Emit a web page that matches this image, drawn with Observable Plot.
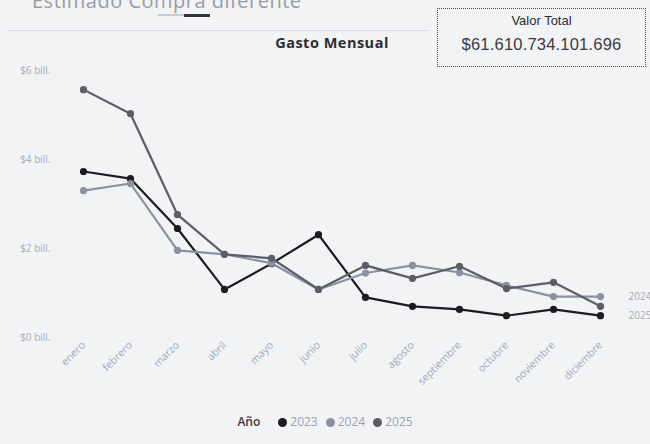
<!DOCTYPE html>
<html>
<head>
<meta charset="utf-8">
<script src="https://cdn.jsdelivr.net/npm/d3@7"></script>
<script src="https://cdn.jsdelivr.net/npm/@observablehq/plot@0.6"></script>
<style>
  html, body { margin: 0; padding: 0; }
  body { width: 650px; height: 444px; overflow: hidden; background: #f1f3f5; font-family: "Open Sans", "Noto Sans", sans-serif; }
  #wrap { position: relative; width: 650px; height: 444px; }
  #top { position: absolute; left: 32px; top: -13px; font-size: 20px; color: #9a9ca4; letter-spacing: 0.5px; white-space: nowrap; }
  #tab1 { position: absolute; left: 158px; top: 14px; width: 26px; height: 2px; background: #c9ccd6; }
  #tab2 { position: absolute; left: 184px; top: 14px; width: 26px; height: 3px; background: #33353d; }
  #rule { position: absolute; left: 8px; top: 30px; width: 422px; height: 1px; background: #d9dce2; }
  #ctitle { position: absolute; left: 232px; width: 200px; top: 33px; text-align: center; font-size: 14.5px; font-weight: 700; color: #2c2d33; letter-spacing: 0.5px; }
  #card { position: absolute; left: 437px; top: 8px; width: 209px; height: 59px; border: 1px dotted #4a4b52; box-sizing: border-box; text-align: center; font-family: "Liberation Sans", Arial, sans-serif; }
  #card .t { font-size: 13px; color: #2c2d33; margin-top: 4px; }
  #card .v { font-size: 16.5px; color: #3a3b42; margin-top: 7px; letter-spacing: 0.2px; }
  #plot { position: absolute; left: 0; top: 0; }
  #legend { position: absolute; left: 0; width: 650px; top: 413px; text-align: center; font-size: 12px; color: #9aa0b8; padding-left: 4px; }
  #legend b { color: #3a3b42; font-weight: 600; margin-right: 18px; }
  #legend .sw { display: inline-block; width: 9px; height: 9px; border-radius: 50%; margin-right: 3px; vertical-align: -1px; }
  #legend .it { margin-right: 8px; }
</style>
</head>
<body>
<div id="wrap">
  <div id="top">Estimado Compra diferente</div>
  <div id="tab1"></div><div id="tab2"></div>
  <div id="rule"></div>
  <div id="ctitle">Gasto Mensual</div>
  <div id="card"><div class="t">Valor Total</div><div class="v">$61.610.734.101.696</div></div>
  <div id="plot"></div>
  <div id="legend"></div>
</div>
<script>
const months = ["enero","febrero","marzo","abril","mayo","junio","julio","agosto","septiembre","octubre","noviembre","diciembre"];
const years = ["2023","2024","2025"];
const colors = ["#1c1c20","#8d90a0","#5c5d66"];
// values in billones de pesos
const v2023 = [3.73, 3.57, 2.45, 1.08, 1.66, 2.31, 0.90, 0.70, 0.63, 0.49, 0.63, 0.49];
const v2024 = [3.30, 3.46, 1.96, 1.87, 1.67, 1.08, 1.45, 1.62, 1.46, 1.17, 0.92, 0.92];
const v2025 = [5.57, 5.03, 2.76, 1.87, 1.78, 1.08, 1.62, 1.33, 1.60, 1.10, 1.24, 0.70];
const yTicks = [0, 2, 4, 6];
const yTickLabels = ["$0 bill.", "$2 bill.", "$4 bill.", "$6 bill."];

const series = [v2023, v2024, v2025];
const data = [];
years.forEach((y, i) => months.forEach((m, j) => data.push({year: y, month: m, value: series[i][j]})));
const end2024 = data.filter(d => d.month === "diciembre" && d.year === "2024");
const end2025 = data.filter(d => d.month === "diciembre" && d.year === "2025");

const chart = Plot.plot({
  width: 650,
  height: 400,
  marginTop: 70,
  marginBottom: 63,
  marginLeft: 83,
  marginRight: 50,
  style: {background: "transparent", fontFamily: "Open Sans, Noto Sans, sans-serif", overflow: "visible"},
  x: {type: "point", domain: months, padding: 0},
  y: {domain: [0, 6]},
  color: {domain: years, range: colors},
  marks: [
    Plot.axisY({ticks: yTicks, tickFormat: (d) => yTickLabels[yTicks.indexOf(d)], tickSize: 0, tickPadding: 33, fontSize: 10, fill: "#a7abb8", label: null}),
    Plot.axisX({tickRotate: -45, tickSize: 0, tickPadding: 6, fontSize: 10.5, fill: "#a2a8c0", label: null}),
    Plot.line(data, {x: "month", y: "value", stroke: "year", strokeWidth: 2.2, z: "year"}),
    Plot.dot(data, {x: "month", y: "value", fill: "year", r: 3.6}),
    Plot.text(end2024, {x: "month", y: "value", text: "year", dx: 28, fill: "#a7abb8", fontSize: 10, textAnchor: "start"}),
    Plot.text(end2025, {x: "month", y: "value", text: "year", dx: 28, dy: 9, fill: "#a7abb8", fontSize: 10, textAnchor: "start"})
  ]
});
document.getElementById("plot").appendChild(chart);

const lg = document.getElementById("legend");
let html = "<b>Año</b>";
years.forEach((y, i) => { html += `<span class="it"><span class="sw" style="background:${colors[i]}"></span>${y}</span>`; });
lg.innerHTML = html;
</script>
</body>
</html>
